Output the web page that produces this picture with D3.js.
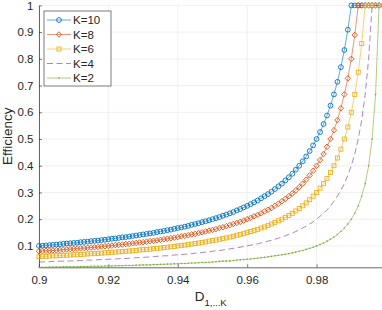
<!DOCTYPE html>
<html>
<head>
<meta charset="utf-8">
<script src="https://cdn.jsdelivr.net/npm/d3@7"></script>
<style>
  html, body { margin: 0; padding: 0; background: #fff; }
  svg { display: block; font-family: "Liberation Sans", Arial, Helvetica, sans-serif; }
</style>
</head>
<body>
<div id="chart"></div>
<script>
// x values (D_1..K)
var dValues = [
  0.900, 0.901, 0.902, 0.903, 0.904, 0.905, 0.906, 0.907, 0.908, 0.909,
  0.910, 0.911, 0.912, 0.913, 0.914, 0.915, 0.916, 0.917, 0.918, 0.919,
  0.920, 0.921, 0.922, 0.923, 0.924, 0.925, 0.926, 0.927, 0.928, 0.929,
  0.930, 0.931, 0.932, 0.933, 0.934, 0.935, 0.936, 0.937, 0.938, 0.939,
  0.940, 0.941, 0.942, 0.943, 0.944, 0.945, 0.946, 0.947, 0.948, 0.949,
  0.950, 0.951, 0.952, 0.953, 0.954, 0.955, 0.956, 0.957, 0.958, 0.959,
  0.960, 0.961, 0.962, 0.963, 0.964, 0.965, 0.966, 0.967, 0.968, 0.969,
  0.970, 0.971, 0.972, 0.973, 0.974, 0.975, 0.976, 0.977, 0.978, 0.979,
  0.980, 0.981, 0.982, 0.983, 0.984, 0.985, 0.986, 0.987, 0.988, 0.989,
  0.990, 0.991, 0.992, 0.993, 0.994, 0.995, 0.996, 0.997, 0.998
];

var effK10 = [
  0.100, 0.101, 0.102, 0.103, 0.104, 0.105, 0.106, 0.108, 0.109, 0.110,
  0.111, 0.112, 0.114, 0.115, 0.116, 0.118, 0.119, 0.120, 0.122, 0.123,
  0.125, 0.127, 0.128, 0.130, 0.132, 0.133, 0.135, 0.137, 0.139, 0.141,
  0.143, 0.145, 0.147, 0.149, 0.152, 0.154, 0.156, 0.159, 0.161, 0.164,
  0.167, 0.169, 0.172, 0.175, 0.179, 0.182, 0.185, 0.189, 0.192, 0.196,
  0.200, 0.204, 0.208, 0.213, 0.217, 0.222, 0.227, 0.233, 0.238, 0.244,
  0.250, 0.256, 0.263, 0.270, 0.278, 0.286, 0.294, 0.303, 0.313, 0.323,
  0.333, 0.345, 0.357, 0.370, 0.385, 0.400, 0.417, 0.435, 0.455, 0.476,
  0.500, 0.526, 0.556, 0.588, 0.625, 0.667, 0.714, 0.769, 0.833, 0.909,
  1, 1, 1, 1, 1, 1, 1, 1, 1
];

var effK8 = [
  0.080, 0.081, 0.082, 0.082, 0.083, 0.084, 0.085, 0.086, 0.087, 0.088,
  0.089, 0.090, 0.091, 0.092, 0.093, 0.094, 0.095, 0.096, 0.098, 0.099,
  0.100, 0.101, 0.103, 0.104, 0.105, 0.107, 0.108, 0.110, 0.111, 0.113,
  0.114, 0.116, 0.118, 0.119, 0.121, 0.123, 0.125, 0.127, 0.129, 0.131,
  0.133, 0.136, 0.138, 0.140, 0.143, 0.145, 0.148, 0.151, 0.154, 0.157,
  0.160, 0.163, 0.167, 0.170, 0.174, 0.178, 0.182, 0.186, 0.190, 0.195,
  0.200, 0.205, 0.211, 0.216, 0.222, 0.229, 0.235, 0.242, 0.250, 0.258,
  0.267, 0.276, 0.286, 0.296, 0.308, 0.320, 0.333, 0.348, 0.364, 0.381,
  0.400, 0.421, 0.444, 0.471, 0.500, 0.533, 0.571, 0.615, 0.667, 0.727,
  0.800, 0.889, 1, 1, 1, 1, 1, 1, 1
];

var effK6 = [
  0.060, 0.061, 0.061, 0.062, 0.063, 0.063, 0.064, 0.065, 0.065, 0.066,
  0.067, 0.067, 0.068, 0.069, 0.070, 0.071, 0.071, 0.072, 0.073, 0.074,
  0.075, 0.076, 0.077, 0.078, 0.079, 0.080, 0.081, 0.082, 0.083, 0.085,
  0.086, 0.087, 0.088, 0.090, 0.091, 0.092, 0.094, 0.095, 0.097, 0.098,
  0.100, 0.102, 0.103, 0.105, 0.107, 0.109, 0.111, 0.113, 0.115, 0.118,
  0.120, 0.122, 0.125, 0.128, 0.130, 0.133, 0.136, 0.140, 0.143, 0.146,
  0.150, 0.154, 0.158, 0.162, 0.167, 0.171, 0.176, 0.182, 0.188, 0.194,
  0.200, 0.207, 0.214, 0.222, 0.231, 0.240, 0.250, 0.261, 0.273, 0.286,
  0.300, 0.316, 0.333, 0.353, 0.375, 0.400, 0.429, 0.462, 0.500, 0.545,
  0.600, 0.667, 0.750, 0.857, 1, 1, 1, 1, 1
];

var effK4 = [
  0.040, 0.040, 0.041, 0.041, 0.042, 0.042, 0.043, 0.043, 0.043, 0.044,
  0.044, 0.045, 0.045, 0.046, 0.047, 0.047, 0.048, 0.048, 0.049, 0.049,
  0.050, 0.051, 0.051, 0.052, 0.053, 0.053, 0.054, 0.055, 0.056, 0.056,
  0.057, 0.058, 0.059, 0.060, 0.061, 0.062, 0.063, 0.063, 0.065, 0.066,
  0.067, 0.068, 0.069, 0.070, 0.071, 0.073, 0.074, 0.075, 0.077, 0.078,
  0.080, 0.082, 0.083, 0.085, 0.087, 0.089, 0.091, 0.093, 0.095, 0.098,
  0.100, 0.103, 0.105, 0.108, 0.111, 0.114, 0.118, 0.121, 0.125, 0.129,
  0.133, 0.138, 0.143, 0.148, 0.154, 0.160, 0.167, 0.174, 0.182, 0.190,
  0.200, 0.211, 0.222, 0.235, 0.250, 0.267, 0.286, 0.308, 0.333, 0.364,
  0.400, 0.444, 0.500, 0.571, 0.667, 0.800, 1, 1, 1
];

var effK2 = [
  0.020, 0.020, 0.020, 0.021, 0.021, 0.021, 0.021, 0.022, 0.022, 0.022,
  0.022, 0.022, 0.023, 0.023, 0.023, 0.024, 0.024, 0.024, 0.024, 0.025,
  0.025, 0.025, 0.026, 0.026, 0.026, 0.027, 0.027, 0.027, 0.028, 0.028,
  0.029, 0.029, 0.029, 0.030, 0.030, 0.031, 0.031, 0.032, 0.032, 0.033,
  0.033, 0.034, 0.034, 0.035, 0.036, 0.036, 0.037, 0.038, 0.038, 0.039,
  0.040, 0.041, 0.042, 0.043, 0.043, 0.044, 0.045, 0.047, 0.048, 0.049,
  0.050, 0.051, 0.053, 0.054, 0.056, 0.057, 0.059, 0.061, 0.063, 0.065,
  0.067, 0.069, 0.071, 0.074, 0.077, 0.080, 0.083, 0.087, 0.091, 0.095,
  0.100, 0.105, 0.111, 0.118, 0.125, 0.133, 0.143, 0.154, 0.167, 0.182,
  0.200, 0.222, 0.250, 0.286, 0.333, 0.400, 0.500, 0.667, 1
];

var seriesNames = ['K=10', 'K=8', 'K=6', 'K=4', 'K=2'];
var seriesValues = [effK10, effK8, effK6, effK4, effK2];

var xTicks = [0.9, 0.92, 0.94, 0.96, 0.98];
var xTickLabels = ['0.9', '0.92', '0.94', '0.96', '0.98'];
var yTicks = [0.1, 0.2, 0.3, 0.4, 0.5, 0.6, 0.7, 0.8, 0.9, 1];
var yTickLabels = ['0.1', '0.2', '0.3', '0.4', '0.5', '0.6', '0.7', '0.8', '0.9', '1'];

// MATLAB-ish styling per series
var colors = ['#0072BD', '#D95319', '#EDB120', '#7E2F8E', '#77AC30'];
var markers = ['circle', 'diamond', 'square', 'none', 'dot'];

var width = 382, height = 310;
var margin = { top: 5.4, right: -4, bottom: 42.7, left: 39 };
var plotW = width - margin.left - margin.right,
  plotH = height - margin.top - margin.bottom;

var svg = d3.select('#chart')
  .append('svg')
  .attr('width', width)
  .attr('height', height);

var g = svg.append('g')
  .attr('transform', 'translate(' + margin.left + ',' + margin.top + ')');

var x = d3.scaleLinear().domain([0.9, 1]).range([0, plotW]);
var y = d3.scaleLinear().domain([0.02, 1]).range([plotH, 0]);

// grid
g.append('g')
  .selectAll('line')
  .data(xTicks)
  .enter()
  .append('line')
  .attr('x1', d => x(d)).attr('x2', d => x(d))
  .attr('y1', 0).attr('y2', plotH)
  .style('stroke', '#e6e6e6').style('stroke-width', 0.6);

g.append('g')
  .selectAll('line')
  .data(yTicks)
  .enter()
  .append('line')
  .attr('x1', 0).attr('x2', plotW)
  .attr('y1', d => y(d)).attr('y2', d => y(d))
  .style('stroke', '#e6e6e6').style('stroke-width', 0.6);

// axes (ticks pointing inward)
var xAxis = g.append('g')
  .attr('transform', 'translate(0,' + plotH + ')')
  .call(d3.axisBottom(x)
    .tickValues(xTicks)
    .tickFormat((d, i) => xTickLabels[i])
    .tickSizeInner(-3)
    .tickSizeOuter(0)
    .tickPadding(8.5));

var yAxis = g.append('g')
  .call(d3.axisLeft(y)
    .tickValues(yTicks)
    .tickFormat((d, i) => yTickLabels[i])
    .tickSizeInner(-3)
    .tickSizeOuter(0)
    .tickPadding(5.5));

[xAxis, yAxis].forEach(function (ax) {
  ax.select('.domain').style('stroke', '#262626').style('stroke-width', 0.7);
  ax.selectAll('.tick line').style('stroke', '#262626').style('stroke-width', 0.6);
  ax.selectAll('text')
    .style('font-size', '11.5px')
    .style('fill', '#262626')
    .style('font-family', '"Liberation Sans", Arial, sans-serif');
});

// lines
var line = d3.line()
  .x((d, i) => x(dValues[i]))
  .y(d => y(d));

function drawMarker(sel, type, color) {
  if (type === 'circle') {
    sel.append('circle').attr('r', 2.4)
      .style('fill', 'none').style('stroke', color).style('stroke-width', 0.9);
  } else if (type === 'diamond') {
    sel.append('path').attr('d', 'M0,-2.8L2.7,0L0,2.8L-2.7,0Z')
      .style('fill', 'none').style('stroke', color).style('stroke-width', 0.9);
  } else if (type === 'square') {
    sel.append('rect').attr('x', -2).attr('y', -2).attr('width', 4).attr('height', 4)
      .style('fill', 'none').style('stroke', color).style('stroke-width', 0.9);
  } else if (type === 'dot') {
    sel.append('circle').attr('r', 0.8)
      .style('fill', color).style('stroke', 'none');
  }
}

seriesValues.forEach(function (vals, s) {
  g.append('path')
    .datum(vals)
    .attr('d', line)
    .style('fill', 'none')
    .style('stroke', colors[s])
    .style('stroke-width', 0.6)
    .style('stroke-dasharray', markers[s] === 'none' ? '6,3.5' : null);

  if (markers[s] !== 'none') {
    g.append('g')
      .selectAll('g')
      .data(vals)
      .enter()
      .append('g')
      .attr('transform', (d, i) => 'translate(' + x(dValues[i]) + ',' + y(d) + ')')
      .each(function () { drawMarker(d3.select(this), markers[s], colors[s]); });
  }
});

// axis labels
svg.append('text')
  .attr('transform', 'translate(12,' + (margin.top + plotH / 2) + ') rotate(-90)')
  .attr('text-anchor', 'middle')
  .style('font-size', '13.5px')
  .style('fill', '#262626')
  .text('Efficiency');

var xl = svg.append('text')
  .attr('x', margin.left + x(0.9495))
  .attr('y', 301)
  .attr('text-anchor', 'middle')
  .style('font-size', '13.5px')
  .style('fill', '#262626');
xl.append('tspan').text('D');
xl.append('tspan').attr('dy', 5).style('font-size', '9.5px').text('1,...K');

// legend
var legend = svg.append('g').attr('transform', 'translate(44,11)');
legend.append('rect')
  .attr('width', 67).attr('height', 75)
  .style('fill', '#fff').style('stroke', '#262626').style('stroke-width', 0.6);

seriesNames.forEach(function (name, s) {
  var row = legend.append('g').attr('transform', 'translate(0,' + (9 + s * 14.5) + ')');
  row.append('line')
    .attr('x1', 3).attr('x2', 27)
    .style('stroke', colors[s]).style('stroke-width', 0.6)
    .style('stroke-dasharray', markers[s] === 'none' ? '6,3.5' : null);
  drawMarker(row.append('g').attr('transform', 'translate(15,0)'), markers[s], colors[s]);
  row.append('text')
    .attr('x', 29).attr('y', 4)
    .style('font-size', '11.5px')
    .style('fill', '#262626')
    .text(name);
});
</script>
</body>
</html>
